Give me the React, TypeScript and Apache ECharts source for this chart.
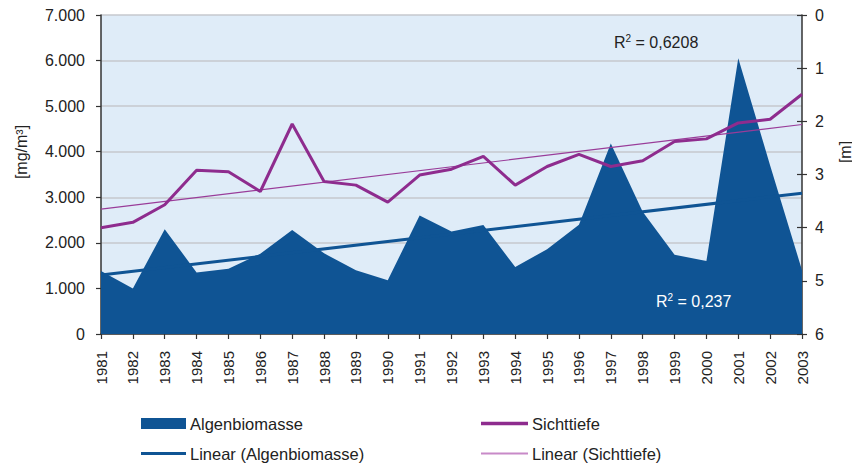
import React, { useEffect, useRef } from "react";
import * as echarts from "echarts";

const years = ["1981","1982","1983","1984","1985","1986","1987","1988","1989","1990","1991","1992","1993","1994","1995","1996","1997","1998","1999","2000","2001","2002","2003"];
const algenbiomasse = [1380, 1000, 2300, 1350, 1430, 1760, 2280, 1770, 1400, 1180, 2600, 2250, 2390, 1470, 1860, 2400, 4180, 2680, 1740, 1600, 6050, 3700, 1400];
const sichttiefe = [4.0, 3.9, 3.57, 2.92, 2.95, 3.32, 2.05, 3.13, 3.2, 3.52, 3.01, 2.9, 2.66, 3.2, 2.85, 2.62, 2.85, 2.74, 2.38, 2.33, 2.03, 1.96, 1.49];
const trendAlgen = [1295, 3090];
const trendSicht = [3.65, 2.06];
const leftTicks = { min: 0, max: 7000, interval: 1000 };
const rightTicks = { min: 0, max: 6, interval: 1 };
const r2Sicht = "0,6208";
const r2Algen = "0,237";

const FONT = "'Liberation Sans', Arial, sans-serif";
const BLUE = "#0F5494";
const PURPLE = "#8E2C8E";
const TXT = "#222222";

export default function App() {
  const ref = useRef<HTMLDivElement>(null);
  useEffect(() => {
    if (!ref.current) return;
    const chart = echarts.init(ref.current, undefined, { renderer: "svg" });
    const last = years.length - 1;
    const legendBase = {
      orient: "horizontal",
      itemGap: 0,
      selectedMode: false,
      textStyle: { fontFamily: FONT, fontSize: 16.5, color: TXT, padding: [0, 0, 0, -1] },
      padding: 0,
    };
    chart.setOption({
      animation: false,
      textStyle: { fontFamily: FONT },
      grid: {
        left: 101, right: 50, top: 15, bottom: 132,
        show: true, backgroundColor: "#DFECF8", borderWidth: 0,
      },
      legend: [
        { ...legendBase, left: 141, top: 415, itemWidth: 45, itemHeight: 11, icon: "rect",
          data: [{ name: "Algenbiomasse", itemStyle: { color: BLUE } }] },
        { ...legendBase, left: 481, top: 415, itemWidth: 47, itemHeight: 3.5, icon: "rect",
          data: [{ name: "Sichttiefe", itemStyle: { color: PURPLE } }] },
        { ...legendBase, left: 141, top: 445, itemWidth: 45, itemHeight: 3, icon: "rect",
          data: [{ name: "Linear (Algenbiomasse)", itemStyle: { color: BLUE } }] },
        { ...legendBase, left: 481, top: 445, itemWidth: 47, itemHeight: 2, icon: "rect",
          data: [{ name: "Linear (Sichttiefe)", itemStyle: { color: "#C88AC8" } }] },
      ],
      xAxis: {
        type: "category",
        data: years,
        boundaryGap: false,
        axisLine: { lineStyle: { color: "#333", width: 1.5 } },
        axisTick: { show: true, length: 5, lineStyle: { color: "#333", width: 1.2 }, interval: 0 },
        axisLabel: { rotate: 90, fontSize: 15, color: TXT, margin: 17, interval: 0, fontFamily: FONT },
        splitLine: { show: false },
      },
      yAxis: [
        {
          type: "value", position: "left", ...leftTicks,
          axisLine: { show: true, lineStyle: { color: "#333", width: 1.5 } },
          axisTick: { show: true, length: 5, lineStyle: { color: "#333", width: 1.2 } },
          axisLabel: {
            fontSize: 16, color: TXT, margin: 16, fontFamily: FONT,
            formatter: (v: number) => (v === 0 ? "0" : `${Math.round(v / 1000)}.000`),
          },
          splitLine: { show: true, lineStyle: { color: "#C6C9CE", width: 1.5 } },
        },
        {
          type: "value", position: "right", inverse: true, ...rightTicks,
          axisLine: { show: true, lineStyle: { color: "#333", width: 1.5 } },
          axisTick: { show: true, length: 5, lineStyle: { color: "#333", width: 1.2 } },
          axisLabel: { fontSize: 16, color: TXT, margin: 13, fontFamily: FONT },
          splitLine: { show: false },
        },
        {
          type: "value", position: "right", inverse: true, ...rightTicks,
          axisLine: { show: false },
          axisTick: { show: true, inside: true, length: 5, lineStyle: { color: "#333", width: 1.2 } },
          axisLabel: { show: false },
          splitLine: { show: false },
        },
      ],
      series: [
        {
          name: "Algenbiomasse", type: "line", data: algenbiomasse, yAxisIndex: 0,
          symbol: "none", lineStyle: { width: 0 }, itemStyle: { color: BLUE },
          areaStyle: { color: BLUE, opacity: 1 }, z: 1,
        },
        {
          name: "Linear (Algenbiomasse)", type: "line", yAxisIndex: 0,
          data: [[0, trendAlgen[0]], [last, trendAlgen[1]]],
          symbol: "none", lineStyle: { width: 3, color: BLUE }, itemStyle: { color: BLUE }, z: 2,
        },
        {
          name: "Linear (Sichttiefe)", type: "line", yAxisIndex: 1,
          data: [[0, trendSicht[0]], [last, trendSicht[1]]],
          symbol: "none", lineStyle: { width: 1.2, color: "#993C99" }, itemStyle: { color: "#C88AC8" }, z: 3,
        },
        {
          name: "Sichttiefe", type: "line", yAxisIndex: 1, data: sichttiefe,
          symbol: "none", lineStyle: { width: 3, color: PURPLE }, itemStyle: { color: PURPLE }, z: 4,
        },
      ],
      graphic: [
        {
          type: "text", x: 21, y: 152, rotation: Math.PI / 2,
          style: { text: "[mg/m³]", font: `16px ${FONT}`, fill: TXT, align: "center", verticalAlign: "middle" },
        },
        {
          type: "text", x: 845, y: 152, rotation: Math.PI / 2,
          style: { text: "[m]", font: `16px ${FONT}`, fill: TXT, align: "center", verticalAlign: "middle" },
        },
        {
          type: "text", x: 614, y: 42, z: 10,
          style: {
            text: `R{s|2} = ${r2Sicht}`, fill: TXT, font: `16px ${FONT}`, verticalAlign: "middle",
            rich: { s: { fontSize: 10, verticalAlign: "top", fill: TXT, fontFamily: FONT, padding: [0, 0, 8, 0] } },
          },
        },
        {
          type: "text", x: 656, y: 301, z: 10,
          style: {
            text: `R{s|2} = ${r2Algen}`, fill: "#FFFFFF", font: `16px ${FONT}`, verticalAlign: "middle",
            rich: { s: { fontSize: 10, verticalAlign: "top", fill: "#FFFFFF", fontFamily: FONT, padding: [0, 0, 8, 0] } },
          },
        },
      ],
    });
    return () => chart.dispose();
  }, []);
  return <div ref={ref} style={{ width: 852, height: 466, position: "absolute", left: 0, top: 0 }} />;
}
